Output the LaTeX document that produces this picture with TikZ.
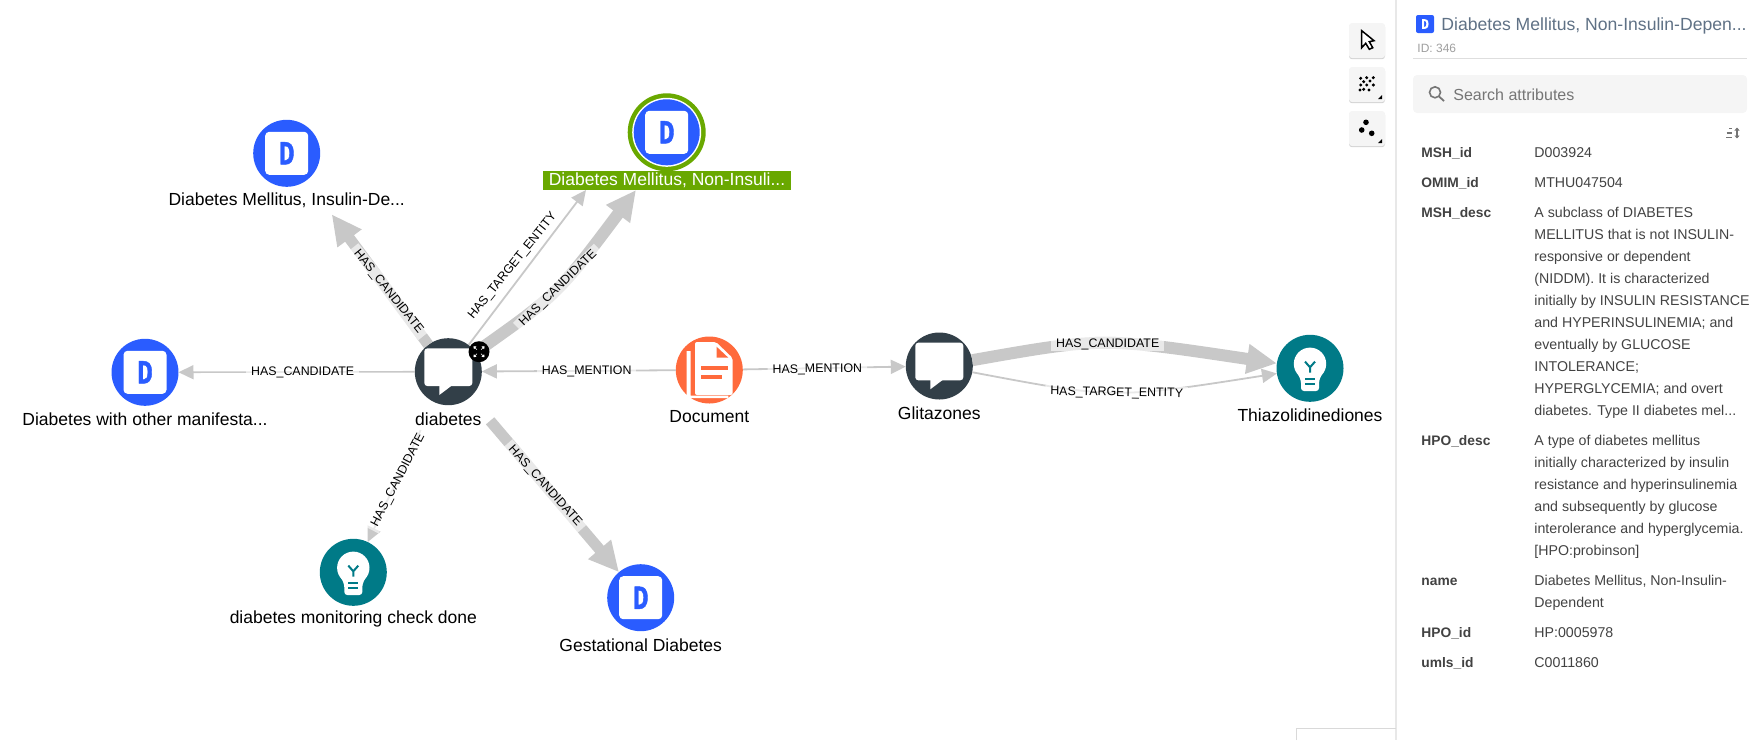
\documentclass[tikz,border=0pt]{standalone}
\usepackage{fontspec}
\setmainfont{Liberation Sans}
\newfontfamily\dfont[BoldFeatures={FakeBold=1.6}]{Fira Sans}
\usetikzlibrary{arrows.meta,shadows}
\definecolor{dblue}{HTML}{2A5CFF}
\definecolor{teal2}{HTML}{007A87}
\definecolor{slate}{HTML}{323F48}
\definecolor{docorange}{HTML}{FF6A3C}
\definecolor{selgreen}{HTML}{69A800}
\definecolor{edgegray}{HTML}{C8C8C8}
\definecolor{paneltext}{HTML}{424242}
\definecolor{titletext}{HTML}{5F7185}
\definecolor{iconlight}{HTML}{757575}
\def\tdots{...}
\tikzset{
  dicon/.pic={
    \fill[white,rounded corners=2pt] (-21.5,-21.5) rectangle (21.5,21.5);
    \node[text=dblue,inner sep=0,xscale=.72,font=\dfont\bfseries\fontsize{16}{16}\selectfont] (-letter) at (0,0) {D};
  },
  bubble/.pic={
    \fill[white,rounded corners=1.5pt] (-24,-23.3) rectangle (24,14.3);
    \fill[white] (-9,12) -- (-9,23.3) -- (3.3,14) -- cycle;
  },
  bulb/.pic={
    \fill[white] (0,-4.5) circle (16.2);
    \fill[white,rounded corners=1.5pt] (-14,2) -- (-9,12) -- (-9,22.7) -- (9,22.7) -- (9,12) -- (14,2) -- cycle;
    \draw[teal2,line width=1pt] (-5,-6.7) -- (0,-1) -- (5,-6.7) (0,-1) -- (0,4.3);
    \draw[teal2,line width=.9pt] (-5,11) -- (5,11) (-5,15.5) -- (5,15.5);
  },
  docpage/.pic={
    \fill[white,rounded corners=1pt] (-14.3,-28) -- (6.7,-28) -- (23.3,-12) -- (23.3,25) -- (-14.3,25) -- cycle;
    \fill[docorange] (7.3,-23.3) -- (19,-12.3) -- (7.3,-12.3) -- cycle;
    \fill[docorange] (-8.7,-4.3) rectangle (19,0);
    \fill[docorange] (-8.7,5) rectangle (12.3,9.3);
    \fill[white] (-22.7,-19) -- (-18.7,-19) -- (-18.7,25.5) -- (19,25.5) -- (19,28) -- (-22.7,28) -- cycle;
  }
}
\begin{document}
\begin{tikzpicture}[x=0.5pt, y=-0.5pt]
\useasboundingbox (0,0) rectangle (1760,740);
%styles
\tikzstyle{nodeCircle}=[circle, inner sep=0, outer sep=0, minimum size=33.5pt]
\tikzstyle{graphLabel}=[inner sep=0, text=black, font=\fontsize{8.75}{10}\selectfont]
\tikzstyle{edgeLabel}=[fill=white, fill opacity=0.6, text opacity=1, text=black, inner xsep=2.5pt, inner ysep=0.5pt, minimum height=7pt, font=\fontsize{6.2}{7}\selectfont]
\tikzstyle{thinEdge}=[draw=edgegray, line width=0.9pt, -{Triangle[length=7.5pt,width=7pt]}]
\tikzstyle{thickEdge}=[draw=edgegray, line width=5.5pt, -{Triangle[length=15pt,width=14pt]}]
\tikzstyle{toolButton}=[rectangle, fill=white!96!black, rounded corners=1.5pt, minimum width=18pt, minimum height=17.5pt, inner sep=0, drop shadow={shadow xshift=0pt, shadow yshift=-0.6pt, opacity=0.35}]
\tikzstyle{keyText}=[anchor=base west, inner sep=0, text=paneltext, font=\bfseries\fontsize{6.9}{9}\selectfont]
\tikzstyle{valText}=[anchor=base west, inner sep=0, text=paneltext, font=\fontsize{7.1}{9}\selectfont]

%graph nodes
\node[nodeCircle, fill=slate] (diabetes) at (448.3,371.7) {};
\node[nodeCircle, fill=docorange] (document) at (709.3,370) {};
\node[nodeCircle, fill=slate] (glitazones) at (939.3,366) {};
\node[nodeCircle, fill=teal2] (thiazol) at (1310,368.3) {};
\node[nodeCircle, fill=dblue] (dInsulin) at (286.7,153.3) {};
\node[nodeCircle, fill=dblue] (dOther) at (145,372.3) {};
\node[nodeCircle, fill=teal2] (monitoring) at (353.3,572.3) {};
\node[nodeCircle, fill=dblue] (gestational) at (640.7,597.7) {};
\node[nodeCircle, fill=selgreen, minimum size=39pt] (dNonRing) at (666.7,132.3) {};
\node[nodeCircle, fill=white, minimum size=34.5pt] (dNonGap) at (666.7,132.3) {};
\node[nodeCircle, fill=dblue, minimum size=33pt] (dNon) at (666.7,132.3) {};

%free ends near the labels
\coordinate (tgtInsulin) at (331.7,214.3);
\coordinate (tgtThin) at (586,190);
\coordinate (tgtThick) at (636,190);

%edges
\draw[thickEdge] (diabetes) -- (tgtInsulin);
\draw[thinEdge, line width=0.8pt] (diabetes) -- (dOther);
\draw[thinEdge] (diabetes) -- (tgtThin);
\draw[thickEdge, line width=6pt] (diabetes) .. controls (557.5,294.5) .. (tgtThick);
\draw[thinEdge, shorten <=15.5pt] (diabetes) -- (monitoring);
\draw[thickEdge, shorten <=15.5pt] (diabetes) -- (gestational);
\draw[thinEdge] (document) -- (diabetes);
\draw[thinEdge] (document) -- (glitazones);
\draw[thickEdge, line width=6pt] (glitazones) .. controls (1102.3,337.2) .. (thiazol);
\draw[thinEdge] (glitazones) .. controls (1114,399) .. (thiazol);

%edge labels
\node[edgeLabel, rotate=-51.2] (lblInsulin) at (388.3,291.7) {HAS\_CANDIDATE};
\node[edgeLabel] (lblOther) at (302.7,372.3) {HAS\_CANDIDATE};
\node[edgeLabel, rotate=51] (lblTarget) at (512.7,266) {HAS\_TARGET\_ENTITY};
\node[edgeLabel, rotate=44.4] (lblNon) at (558.3,288.3) {HAS\_CANDIDATE};
\node[edgeLabel, rotate=62.6] (lblMonitor) at (398.3,480) {HAS\_CANDIDATE};
\node[edgeLabel, rotate=-48] (lblGest) at (545,486) {HAS\_CANDIDATE};
\node[edgeLabel] (lblMentionA) at (586.7,371.7) {HAS\_MENTION};
\node[edgeLabel, rotate=0.5] (lblMentionB) at (817.3,369.7) {HAS\_MENTION};
\node[edgeLabel] (lblThiazA) at (1107.7,344) {HAS\_CANDIDATE};
\node[edgeLabel, rotate=-1] (lblThiazB) at (1116.7,393) {HAS\_TARGET\_ENTITY};

%icons
\pic (iNon) at (dNon) {dicon};
\pic (iInsulin) at (dInsulin) {dicon};
\pic (iOther) at (dOther) {dicon};
\pic (iGest) at (gestational) {dicon};
\pic at (diabetes) {bubble};
\pic at (glitazones) {bubble};
\pic at (thiazol) {bulb};
\pic at (monitoring) {bulb};
\pic at (document) {docpage};

%expand badge
\node[circle, fill=black, inner sep=0, minimum size=10.5pt] (badge) at (479,351.7) {};
\draw[white, line width=0.3pt, -{Triangle[length=1.2pt,width=1.8pt]}] (badge) ++(-2,-2) -- ++(-3.5,-3.5);
\draw[white, line width=0.3pt, -{Triangle[length=1.2pt,width=1.8pt]}] (badge) ++(2,-2) -- ++(3.5,-3.5);
\draw[white, line width=0.3pt, -{Triangle[length=1.2pt,width=1.8pt]}] (badge) ++(-2,2) -- ++(-3.5,3.5);
\draw[white, line width=0.3pt, -{Triangle[length=1.2pt,width=1.8pt]}] (badge) ++(2,2) -- ++(3.5,3.5);

%node texts
\node[graphLabel] (tDiabetes) at (448.3,419) {diabetes};
\node[graphLabel] (tDocument) at (709.3,416.7) {Document};
\node[graphLabel] (tGlitazones) at (939.3,413) {Glitazones};
\node[graphLabel] (tThiazol) at (1310,415.7) {Thiazolidinediones};
\node[graphLabel] (tInsulin) at (286.7,200) {Diabetes Mellitus, Insulin-De...};
\node[graphLabel] (tOther) at (145,419.3) {Diabetes with other manifesta...};
\node[graphLabel] (tMonitoring) at (353.3,619) {diabetes monitoring check done};
\node[graphLabel] (tGest) at (640.7,645) {Gestational Diabetes};
\node[graphLabel, text=white, fill=selgreen, minimum width=124pt, minimum height=9.35pt] (tNon) at (667,180.5) {Diabetes Mellitus, Non-Insuli...};

%toolbar
\node[toolButton] (btnPointer) at (1367,40.5) {};
\node[toolButton] (btnDots) at (1367,84.5) {};
\node[toolButton] (btnFew) at (1367,128.5) {};
\draw[black, fill=white, line width=0.75pt, line join=miter] (1361.7,30.7) -- (1361.7,47.7) -- (1365.7,43.3) -- (1369.3,49.3) -- (1372.7,47.7) -- (1369.3,41.7) -- (1374,40.7) -- cycle;
\foreach \dx/\dy in {1360.7/78.3, 1366.7/77.7, 1373.3/77.7, 1363.7/81.7, 1370/81, 1360.7/85, 1366.7/85, 1373.3/85, 1363.7/89.3, 1369/90, 1360/90}
  \fill[black] (\dx,\dy) circle (0.85pt);
\foreach \dx/\dy in {1366/122.3, 1361.7/130, 1371.7/133.3}
  \fill[black] (\dx,\dy) circle (1.4pt);
\fill[black] (1382,95) -- (1382,99) -- (1378,99) -- cycle;
\fill[black] (1382,139) -- (1382,143) -- (1378,143) -- cycle;

%panel frame
\draw[white!91!black, line width=0.6pt] (1396,0) -- (1396,740);
\draw[white!85!black, line width=0.5pt] (1296,740) -- (1296,728.5) -- (1396,728.5);

%panel header
\fill[dblue, rounded corners=1pt] (1416,15) rectangle (1434,33);
\node[text=white, inner sep=0, xscale=.8, font=\dfont\bfseries\fontsize{7}{7}\selectfont] (headD) at (1425,24) {D};
\node[anchor=base west, inner sep=0, text=titletext, font=\fontsize{8.8}{11}\selectfont] (headTitle) at (1441,30) {Diabetes Mellitus, Non-Insulin-Depen...};
\node[anchor=base west, inner sep=0, text=white!62!black, font=\fontsize{6}{8}\selectfont] (headId) at (1417,52) {ID: 346};
\draw[white!87!black, line width=0.5pt] (1413,58.5) -- (1747,58.5);

%search
\fill[white!96!black, rounded corners=2pt] (1413,75) rectangle (1747,113);
\draw[iconlight, line width=0.8pt] (1435,92.3) circle (5.5);
\draw[iconlight, line width=0.9pt] (1439,96.5) -- (1444,101);
\node[anchor=base west, inner sep=0, text=iconlight, font=\fontsize{8}{10}\selectfont] (searchText) at (1453,100) {Search attributes};

%sort icon
\draw[iconlight, line width=0.6pt] (1729,128.5) -- (1732,128.5) (1726.5,133) -- (1732,133) (1726,137.5) -- (1732,137.5);
\draw[iconlight, line width=0.6pt, {Triangle[length=1.5pt,width=2.5pt]}-{Triangle[length=1.5pt,width=2.5pt]}] (1737,127.5) -- (1737,138.5);

%attribute names
\foreach \yy/\txt [count=\i] in {157/MSH\_id, 187/OMIM\_id, 217/MSH\_desc, 445/HPO\_desc, 585/name, 637/HPO\_id, 667/umls\_id}
  \node[keyText] (key\i) at (1421,\yy) {\txt};

%attribute values
\foreach \yy/\txt [count=\i] in {157/D003924, 187/MTHU047504, 217/A subclass of DIABETES, 239/MELLITUS that is not INSULIN-, 261/responsive or dependent, 283/(NIDDM). It is characterized, 305/initially by INSULIN RESISTANCE, 327/and HYPERINSULINEMIA; and, 349/eventually by GLUCOSE, 371/INTOLERANCE;, 393/HYPERGLYCEMIA; and overt, 415/diabetes. Type II diabetes mel\tdots, 445/A type of diabetes mellitus, 467/initially characterized by insulin, 489/resistance and hyperinsulinemia, 511/and subsequently by glucose, 533/interolerance and hyperglycemia., 555/{[HPO:probinson]}, 585/{Diabetes Mellitus, Non-Insulin-}, 607/Dependent, 637/HP:0005978, 667/C0011860}
  \node[valText] (val\i) at (1534,\yy) {\txt};
\end{tikzpicture}
\end{document}
